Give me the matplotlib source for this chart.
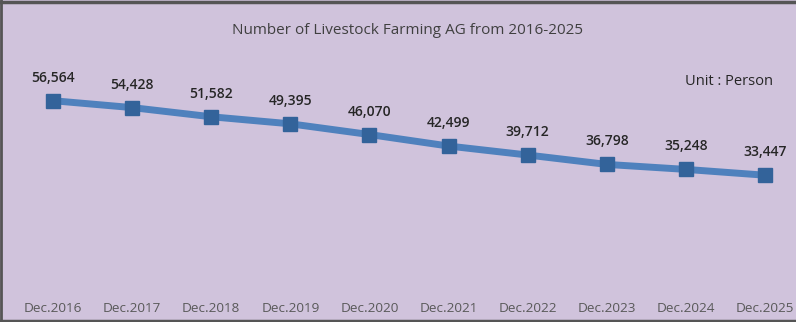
import matplotlib
matplotlib.use("Agg")
import matplotlib.pyplot as plt
from matplotlib.lines import Line2D

categories = ["Dec.2016", "Dec.2017", "Dec.2018", "Dec.2019", "Dec.2020",
              "Dec.2021", "Dec.2022", "Dec.2023", "Dec.2024", "Dec.2025"]
values = [56564, 54428, 51582, 49395, 46070, 42499, 39712, 36798, 35248, 33447]
title = "Number of Livestock Farming AG from 2016-2025"
unit_label = "Unit : Person"

W, H = 796, 322
bg = "#D0C3DC"
fig = plt.figure(figsize=(W / 100, H / 100), dpi=100)
fig.patch.set_facecolor(bg)
ax = fig.add_axes([0, 0, 1, 1])
ax.set_facecolor(bg)

x = list(range(len(categories)))
# pixel mapping: x=0 -> 53px, x=9 -> 765px
pxu = (765 - 53) / 9
ax.set_xlim(-53 / pxu, 9 + (W - 765) / pxu)
s = 74.5 / (56564 - 33447)
y0px = 283
ax.set_ylim(-(H - y0px) / s, y0px / s)
ax.axis("off")

ax.plot(x, values, color="#4F81BD", lw=5, solid_capstyle="round", zorder=2)
ax.plot(x, values, ls="none", marker="s", ms=10.5, color="#33639A",
        mec="#33639A", zorder=3)

font = "Open Sans"
for xi, v in zip(x, values):
    ax.annotate(f"{v:,}", (xi, v), xytext=(0, 16.5), textcoords="offset points",
                ha="center", va="center", fontsize=10, color="#262626",
                family=font, weight="semibold")

for xi, c in zip(x, categories):
    fig.text((53 + xi * pxu) / W, 1 - 309 / H, c, ha="center", va="center",
             fontsize=9.7, color="#595959", family=font)

fig.text(407 / W, 1 - 31 / H, title, ha="center", va="center", fontsize=11,
         color="#404040", family=font)
fig.text(773 / W, 1 - 82 / H, unit_label, ha="right", va="center",
         fontsize=10.5, color="#262626", family=font)

# border (left, top, bottom)
bc = "#555555"
fig.add_artist(Line2D([1 / W, 1 / W], [0, 1], transform=fig.transFigure, color=bc, lw=2))
fig.add_artist(Line2D([0, 1], [1 - 2 / H, 1 - 2 / H], transform=fig.transFigure, color=bc, lw=2.5))
fig.add_artist(Line2D([0, 1], [1.5 / H, 1.5 / H], transform=fig.transFigure, color=bc, lw=2.5))

fig.savefig("out.png", dpi=100, facecolor=bg)
